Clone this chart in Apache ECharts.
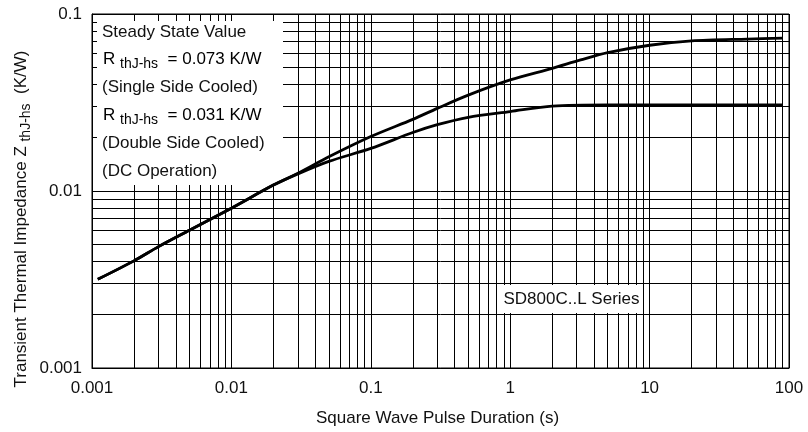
<!DOCTYPE html>
<html><head><meta charset="utf-8">
<script src="https://cdn.jsdelivr.net/npm/echarts@6/dist/echarts.min.js"></script>
<style>html,body{margin:0;padding:0;background:#fff}#c{width:808px;height:432px}</style>
</head><body><div id="c"></div>
<script>
// Square wave pulse duration (s) and transient thermal impedance (K/W)
const pulseSingle = [0.0011, 0.002, 0.003, 0.005, 0.01, 0.02, 0.03, 0.05, 0.1, 0.2, 0.3, 0.5, 1, 2, 3.2, 5, 10, 20, 50, 90];
const zSingle     = [0.00317, 0.00403, 0.00485, 0.00600, 0.00800, 0.0108, 0.0126, 0.0156, 0.0203, 0.0254, 0.0293, 0.0348, 0.0424, 0.0493, 0.0550, 0.0605, 0.0666, 0.0705, 0.0722, 0.0730];
const pulseDouble = [0.0011, 0.002, 0.003, 0.005, 0.01, 0.02, 0.03, 0.05, 0.1, 0.2, 0.3, 0.5, 1, 2, 5, 10, 20, 50, 90];
const zDouble     = [0.00317, 0.00403, 0.00485, 0.00600, 0.00800, 0.0108, 0.0125, 0.0147, 0.0174, 0.0214, 0.0237, 0.0261, 0.0281, 0.0302, 0.0307, 0.0307, 0.0307, 0.0307, 0.0307];

const xTickLabels = ['0.001', '0.01', '0.1', '1', '10', '100'];
const yTickLabels = ['0.001', '0.01', '0.1'];
const xDecades = [0.001, 0.01, 0.1, 1, 10];
const yDecades = [0.001, 0.01];
const minorSteps = [2, 3, 4, 5, 6, 7, 8, 9];
const X_MIN = 0.001, X_MAX = 100, Y_MIN = 0.001, Y_MAX = 0.1;

const FONT = 'Arial, "Liberation Sans", sans-serif';
const TXT = '#111';

const gridLineData = [];
xDecades.forEach(d => minorSteps.forEach(m => {
  const v = +(d * m).toPrecision(3);
  gridLineData.push([{ coord: [v, Y_MIN] }, { coord: [v, Y_MAX] }]);
}));
yDecades.forEach(d => minorSteps.forEach(m => {
  const v = +(d * m).toPrecision(3);
  gridLineData.push([{ coord: [X_MIN, v] }, { coord: [X_MAX, v] }]);
}));

const chart = echarts.init(document.getElementById('c'), null, { renderer: 'canvas' });
const richBox = {
  m: { fontSize: 17, fontFamily: FONT, color: TXT },
  s: { fontSize: 14, fontFamily: FONT, color: TXT, padding: [10, 0, 0, 0] }
};
chart.setOption({
  animation: false,
  backgroundColor: '#fff',
  grid: { left: 92, right: 19, top: 14, bottom: 64, show: true, borderColor: '#000', borderWidth: 1, backgroundColor: 'transparent' },
  xAxis: {
    type: 'log', logBase: 10, min: X_MIN, max: X_MAX,
    axisLine: { show: true, lineStyle: { color: '#000', width: 1 } },
    axisTick: { show: false },
    splitLine: { show: true, lineStyle: { color: '#000', width: 1 } },
    axisLabel: {
      margin: 12, fontSize: 17, fontFamily: FONT, color: TXT,
      formatter: v => xTickLabels[Math.round(Math.log10(v)) + 3]
    },
    name: 'Square Wave Pulse Duration (s)',
    nameLocation: 'middle', nameGap: 42, nameMoveOverlap: false,
    nameTextStyle: { fontSize: 17, fontFamily: FONT, color: TXT, padding: [0, 6, 0, 0] }
  },
  yAxis: {
    type: 'log', logBase: 10, min: Y_MIN, max: Y_MAX,
    axisLine: { show: true, lineStyle: { color: '#000', width: 1 } },
    axisTick: { show: false },
    splitLine: { show: true, lineStyle: { color: '#000', width: 1 } },
    axisLabel: {
      margin: 10, fontSize: 17, fontFamily: FONT, color: TXT,
      formatter: v => yTickLabels[Math.round(Math.log10(v)) + 3]
    },
    name: '{m|Transient Thermal Impedance Z }{s|thJ-hs}{m|  (K/W)}',
    nameLocation: 'middle', nameGap: 59, nameRotate: 90, nameMoveOverlap: false,
    nameTextStyle: { padding: [0, 56, 0, 0], rich: richBox }
  },
  graphic: [
    { type: 'rect', z: 1, silent: true, shape: { x: 97, y: 21, width: 186, height: 164 }, style: { fill: '#fff' } },
    { type: 'text', z: 3, x: 102, y: 32, style: { text: 'Steady State Value', font: '17px ' + FONT, fill: TXT, verticalAlign: 'middle' } },
    { type: 'text', z: 3, x: 103, y: 59, style: { text: '{m|R }{s|thJ-hs}{m|  = 0.073 K/W}', rich: richBox, verticalAlign: 'middle' } },
    { type: 'text', z: 3, x: 102, y: 87, style: { text: '(Single Side Cooled)', font: '17px ' + FONT, fill: TXT, verticalAlign: 'middle' } },
    { type: 'text', z: 3, x: 103, y: 115, style: { text: '{m|R }{s|thJ-hs}{m|  = 0.031 K/W}', rich: richBox, verticalAlign: 'middle' } },
    { type: 'text', z: 3, x: 102, y: 143, style: { text: '(Double Side Cooled)', font: '17px ' + FONT, fill: TXT, verticalAlign: 'middle' } },
    { type: 'text', z: 3, x: 102, y: 171.5, style: { text: '(DC Operation)', font: '17px ' + FONT, fill: TXT, verticalAlign: 'middle' } },
    { type: 'rect', z: 1, silent: true, shape: { x: 502, y: 285, width: 139, height: 28 }, style: { fill: '#fff' } },
    { type: 'text', z: 3, x: 571.5, y: 299, style: { text: 'SD800C..L Series', font: '17px ' + FONT, fill: TXT, align: 'center', verticalAlign: 'middle' } }
  ],
  series: [
    {
      type: 'line', name: 'grid', data: [], silent: true, z: 0,
      markLine: { z: 0, silent: true, symbol: 'none', animation: false, label: { show: false },
        lineStyle: { color: '#000', width: 1, type: 'solid' }, emphasis: { disabled: true }, data: gridLineData }
    },
    {
      type: 'line', name: 'Single Side Cooled', z: 2, smooth: 0.3, showSymbol: false, symbol: 'none',
      lineStyle: { color: '#000', width: 2.8 },
      data: pulseSingle.map((x, i) => [x, zSingle[i]])
    },
    {
      type: 'line', name: 'Double Side Cooled', z: 2, smooth: 0.3, showSymbol: false, symbol: 'none',
      lineStyle: { color: '#000', width: 2.8 },
      data: pulseDouble.map((x, i) => [x, zDouble[i]])
    }
  ]
});
</script>
</body></html>
